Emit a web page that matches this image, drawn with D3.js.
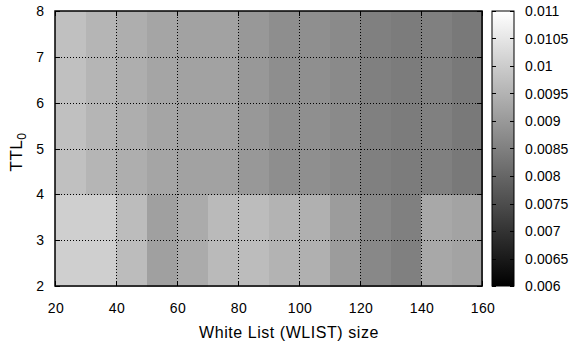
<!DOCTYPE html>
<html>
<head>
<meta charset="utf-8">
<script src="https://cdn.jsdelivr.net/npm/d3@7"></script>
<style>
  body { margin: 0; background: #fff; }
  svg text { font-family: "Liberation Sans", Arial, sans-serif; fill: #000; }
</style>
</head>
<body>
<div id="chart"></div>
<script>
// White list size bins (cell start, each 10 wide)
const wlistSize = [20, 30, 40, 50, 60, 70, 80, 90, 100, 110, 120, 130, 140, 150];
// TTL0 rows (cell start, each 1 high)
const ttlRows = [2, 3, 4, 5, 6, 7];

// values per row, read from the grey levels
const ttl2 = [0.01006, 0.01006, 0.00969, 0.00914, 0.00935, 0.00965, 0.00969, 0.00951, 0.00945, 0.00906, 0.00867, 0.00851, 0.00929, 0.00920];
const ttl3 = [0.01006, 0.01006, 0.00969, 0.00914, 0.00935, 0.00965, 0.00969, 0.00951, 0.00945, 0.00906, 0.00867, 0.00851, 0.00929, 0.00920];
const ttl4 = [0.00976, 0.00955, 0.00941, 0.00924, 0.00918, 0.00918, 0.00898, 0.00878, 0.00880, 0.00871, 0.00851, 0.00843, 0.00851, 0.00837];
const ttl5 = [0.00976, 0.00955, 0.00941, 0.00924, 0.00918, 0.00918, 0.00898, 0.00878, 0.00880, 0.00871, 0.00851, 0.00843, 0.00851, 0.00837];
const ttl6 = [0.00976, 0.00955, 0.00941, 0.00924, 0.00918, 0.00918, 0.00898, 0.00878, 0.00880, 0.00871, 0.00851, 0.00843, 0.00851, 0.00837];
const ttl7 = [0.00976, 0.00955, 0.00941, 0.00924, 0.00918, 0.00918, 0.00898, 0.00878, 0.00880, 0.00871, 0.00851, 0.00843, 0.00851, 0.00837];
const rowValues = [ttl2, ttl3, ttl4, ttl5, ttl6, ttl7];

const xTicks = [20, 40, 60, 80, 100, 120, 140, 160];
const yTicks = [2, 3, 4, 5, 6, 7, 8];
const cbTicks = [0.006, 0.0065, 0.007, 0.0075, 0.008, 0.0085, 0.009, 0.0095, 0.01, 0.0105, 0.011];

const width = 574, height = 348;
const plot = { left: 55, right: 482, top: 11, bottom: 286 };
const bar = { left: 492, right: 514 };

const svg = d3.select("#chart").append("svg")
  .attr("width", width)
  .attr("height", height);

const x = d3.scaleLinear().domain([20, 160]).range([plot.left, plot.right]);
const y = d3.scaleLinear().domain([2, 8]).range([plot.bottom, plot.top]);
const color = d3.scaleLinear().domain([0.006, 0.011]).range(["#000000", "#ffffff"]);
const cbY = d3.scaleLinear().domain([0.006, 0.011]).range([plot.bottom, plot.top]);

// cells
const cells = [];
ttlRows.forEach((t, i) => {
  wlistSize.forEach((w, j) => cells.push({ w: w, t: t, v: rowValues[i][j] }));
});

svg.append("g").selectAll("rect")
  .data(cells)
  .enter().append("rect")
  .attr("x", d => x(d.w))
  .attr("y", d => y(d.t + 1))
  .attr("width", d => x(d.w + 10) - x(d.w) + 0.5)
  .attr("height", d => y(d.t) - y(d.t + 1) + 0.5)
  .attr("fill", d => color(d.v))
  .attr("shape-rendering", "crispEdges");

// dotted grid
const grid = svg.append("g")
  .attr("stroke", "#000")
  .attr("stroke-width", 1)
  .attr("stroke-dasharray", "1,2");
grid.selectAll(".gx")
  .data(xTicks.slice(1, -1))
  .enter().append("line")
  .attr("x1", d => Math.round(x(d)) + 0.5).attr("x2", d => Math.round(x(d)) + 0.5)
  .attr("y1", plot.top).attr("y2", plot.bottom);
grid.selectAll(".gy")
  .data(yTicks.slice(1, -1))
  .enter().append("line")
  .attr("y1", d => Math.round(y(d)) + 0.5).attr("y2", d => Math.round(y(d)) + 0.5)
  .attr("x1", plot.left).attr("x2", plot.right);

// ticks (inside, mirrored)
const tickLen = 5;
const ticks = svg.append("g").attr("stroke", "#000").attr("stroke-width", 1);
xTicks.forEach(d => {
  const px = Math.round(x(d)) + 0.5;
  ticks.append("line").attr("x1", px).attr("x2", px).attr("y1", plot.bottom).attr("y2", plot.bottom - tickLen);
  ticks.append("line").attr("x1", px).attr("x2", px).attr("y1", plot.top).attr("y2", plot.top + tickLen);
});
yTicks.forEach(d => {
  const py = Math.round(y(d)) + 0.5;
  ticks.append("line").attr("y1", py).attr("y2", py).attr("x1", plot.left).attr("x2", plot.left + tickLen);
  ticks.append("line").attr("y1", py).attr("y2", py).attr("x1", plot.right).attr("x2", plot.right - tickLen);
});

// border
svg.append("rect")
  .attr("x", plot.left).attr("y", plot.top)
  .attr("width", plot.right - plot.left).attr("height", plot.bottom - plot.top)
  .attr("fill", "none").attr("stroke", "#000").attr("stroke-width", 1.5);

// tick labels
svg.append("g").selectAll("text")
  .data(xTicks)
  .enter().append("text")
  .attr("x", d => x(d) + 1)
  .attr("y", 313)
  .attr("text-anchor", "middle")
  .style("font-size", "14px")
  .style("letter-spacing", "0.4px")
  .text(d => d);

svg.append("g").selectAll("text")
  .data(yTicks)
  .enter().append("text")
  .attr("x", 44)
  .attr("y", d => y(d) + 5)
  .attr("text-anchor", "end")
  .style("font-size", "14px")
  .text(d => d);

// axis titles
svg.append("text")
  .attr("x", 289)
  .attr("y", 338)
  .attr("text-anchor", "middle")
  .style("font-size", "16px")
  .style("letter-spacing", "0.55px")
  .text("White List (WLIST) size");

const yTitle = svg.append("text")
  .attr("transform", "translate(22,152) rotate(-90)")
  .attr("text-anchor", "middle")
  .style("font-size", "17px")
  .style("letter-spacing", "0.5px");
yTitle.append("tspan").text("TTL");
yTitle.append("tspan").attr("dy", 4).style("font-size", "12px").text("0");

// colour box
const defs = svg.append("defs");
const grad = defs.append("linearGradient")
  .attr("id", "cbgrad")
  .attr("x1", 0).attr("y1", 1).attr("x2", 0).attr("y2", 0);
grad.selectAll("stop")
  .data(d3.range(0, 1.0001, 0.1))
  .enter().append("stop")
  .attr("offset", d => d)
  .attr("stop-color", d => color(0.006 + d * 0.005));

svg.append("rect")
  .attr("x", bar.left).attr("y", plot.top)
  .attr("width", bar.right - bar.left).attr("height", plot.bottom - plot.top)
  .attr("fill", "url(#cbgrad)")
  .attr("stroke", "#000").attr("stroke-width", 1);

const cbTickG = svg.append("g").attr("stroke", "#000").attr("stroke-width", 1);
cbTicks.forEach(d => {
  const py = Math.round(cbY(d)) + 0.5;
  cbTickG.append("line").attr("x1", bar.left).attr("x2", bar.left + 4).attr("y1", py).attr("y2", py);
  cbTickG.append("line").attr("x1", bar.right).attr("x2", bar.right - 4).attr("y1", py).attr("y2", py);
});

svg.append("g").selectAll("text")
  .data(cbTicks)
  .enter().append("text")
  .attr("x", 525)
  .attr("y", d => cbY(d) + 5)
  .style("font-size", "14px")
  .style("letter-spacing", "0.1px")
  .text(d => d3.format("")(d));
</script>
</body>
</html>
